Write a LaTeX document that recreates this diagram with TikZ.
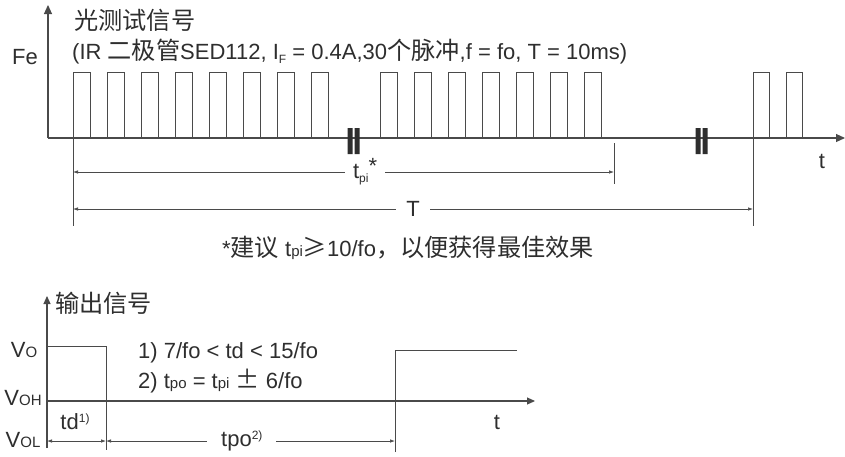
\documentclass[tikz,border=0pt]{standalone}
\usepackage{fontspec}
\setmainfont{Liberation Sans}
\newfontfamily\cjk{Noto Sans CJK SC}[Scale=1.1]
\usetikzlibrary{arrows.meta}
\definecolor{ink}{HTML}{2E2E2E}
\definecolor{wire}{HTML}{4A4A4A}
\newcommand{\lo}[1]{{\fontsize{15}{15}\selectfont #1}}
\newcommand{\dn}[1]{\raisebox{-4pt}{\fontsize{12}{12}\selectfont #1}}
\newcommand{\up}[1]{\raisebox{7pt}{\fontsize{12}{12}\selectfont #1}}
\tikzset{
  txt/.style={font=\fontsize{22}{25}\selectfont, text=ink, inner sep=0pt},
  axis/.style={draw=wire, line width=1.1pt, -{Triangle[length=9pt,width=8pt]}},
  axisb/.style={draw=wire, line width=1.1pt, -{Triangle[length=8pt,width=7pt]}},
  wave/.style={draw=wire, line width=0.9pt},
  dim/.style={draw=wire, line width=0.7pt, {Latex[length=5pt,width=3.5pt]}-{Latex[length=5pt,width=3.5pt]}},
  gap/.style={txt, fill=white, inner xsep=8pt, inner ysep=2pt},
  brk/.style={fill=ink, draw=none}
}
\begin{document}
\begin{tikzpicture}[x=1pt, y=-1pt]
\useasboundingbox[fill=white] (0,0) rectangle (845,456);
% light test signal
\draw[axis] (48,138) -- (48,5);
\draw[axis] (48,138) -- (845,138);
\node[txt] (fe) at (25,57) {Fe};
\node[txt, anchor=west] (title) at (74,20) {\cjk 光测试信号};
\node[txt, anchor=west] (cond) at (72,52) {(IR {\cjk 二极管}SED112, I\dn{F} = 0.4A,30{\cjk 个脉冲},f = fo, T = 10ms)};
% pulses
\draw[wave] (73,138) |- (90,72) -- (90,138);
\draw[wave] (107,138) |- (124,72) -- (124,138);
\draw[wave] (141,138) |- (158,72) -- (158,138);
\draw[wave] (175,138) |- (192,72) -- (192,138);
\draw[wave] (209,138) |- (226,72) -- (226,138);
\draw[wave] (243,138) |- (260,72) -- (260,138);
\draw[wave] (277,138) |- (294,72) -- (294,138);
\draw[wave] (311,138) |- (328,72) -- (328,138);
\draw[wave] (380,138) |- (397,72) -- (397,138);
\draw[wave] (414,138) |- (431,72) -- (431,138);
\draw[wave] (448,138) |- (465,72) -- (465,138);
\draw[wave] (482,138) |- (499,72) -- (499,138);
\draw[wave] (516,138) |- (533,72) -- (533,138);
\draw[wave] (550,138) |- (567,72) -- (567,138);
\draw[wave] (584,138) |- (601,72) -- (601,138);
\draw[wave] (753,138) |- (769,72) -- (769,138);
\draw[wave] (786,138) |- (802,72) -- (802,138);
% breaks
\fill[brk] (347.5,128) rectangle (352.5,154) (354.5,128) rectangle (359.5,154);
\fill[brk] (695.5,128) rectangle (700.5,154) (702.5,128) rectangle (707.5,154);
\node[txt] (tt) at (822,161) {t};
% spans
\coordinate (s0) at (73,138);
\coordinate (s0b) at (73,226);
\coordinate (s1) at (614,143);
\coordinate (s1b) at (614,184);
\coordinate (s2) at (753,138);
\coordinate (s2b) at (753,226);
\draw[wave, line width=0.7pt] (s0) -- (s0b);
\draw[wave, line width=0.7pt] (s1) -- (s1b);
\draw[wave, line width=0.7pt] (s2) -- (s2b);
\draw[dim] (73,172) -- (614,172) node[gap, pos=0.54] (tpi) {t\dn{pi}\raisebox{5pt}{*}};
\draw[dim] (73,209) -- (753,209) node[gap, pos=0.5, inner xsep=10pt] (per) {T};
\node[txt] (note) at (408,248) {*{\cjk 建议} t\lo{pi}{\cjk ≥}10/fo{\cjk ，以便获得最佳效果}};
% output signal
\draw[axisb] (47,448) -- (47,296);
\draw[axisb] (47,401) -- (535,401);
\node[txt, anchor=west] (outsig) at (55,303) {\cjk 输出信号};
\node[txt] (vo) at (24,350) {V\lo{O}};
\node[txt] (voh) at (23,398) {V\lo{OH}};
\node[txt] (vol) at (23,440) {V\lo{OL}};
\draw[wave] (47,346) -| (106,450);
\draw[wave] (395,452) |- (517,350);
\node[txt, anchor=west] (c1) at (138,353) {1) 7/fo < td < 15/fo};
\node[txt, anchor=west] (c2) at (138,381) {2) t\lo{po} = t\lo{pi} {\cjk ±} 6/fo};
\node[txt] (td) at (75,422) {td\up{1)}};
\node[txt] (tb) at (497,422) {t};
\draw[dim] (47,441) -- (106,441);
\draw[dim] (106,441) -- (395,441) node[gap, pos=0.47, inner xsep=14pt] (tpo) {tpo\up{2)}};
\end{tikzpicture}
\end{document}
